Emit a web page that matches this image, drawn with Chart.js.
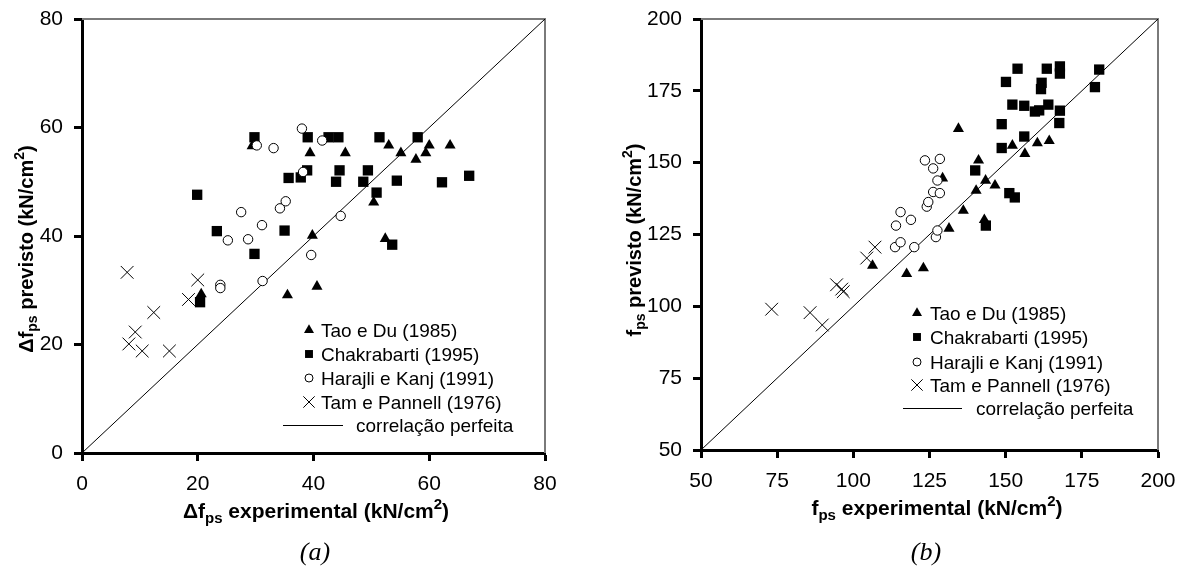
<!DOCTYPE html>
<html>
<head>
<meta charset="utf-8">
<script src="https://cdn.jsdelivr.net/npm/chart.js@4.4.1/dist/chart.umd.min.js"></script>
<style>
  body { margin: 0; background: #fff; }
  #wrapA, #wrapB { position: absolute; top: 0; }
  #wrapA { left: 0; }
  #wrapB { left: 590px; }
</style>
</head>
<body>
<div id="wrapA"><canvas id="chartA" width="590" height="569"></canvas></div>
<div id="wrapB"><canvas id="chartB" width="589" height="569"></canvas></div>
<script>
// series names (legend)
const seriesNames = ['Tao e Du (1985)', 'Chakrabarti (1995)', 'Harajli e Kanj (1991)', 'Tam e Pannell (1976)', 'correlação perfeita'];

// (a) delta fps: [experimental, previsto]
const taoA = [[20.6,29.3],[29.4,56.6],[35.5,29.1],[39.4,55.3],[39.8,40.1],[40.6,30.7],[45.5,55.3],[50.4,46.2],[52.4,39.5],[53.0,56.7],[55.1,55.3],[57.7,54.1],[59.4,55.3],[60.0,56.7],[63.6,56.7]];
const chakA = [[19.9,47.6],[20.4,27.8],[23.3,40.9],[29.8,58.2],[29.8,36.7],[35.0,41.0],[35.7,50.7],[37.8,50.8],[38.9,52.1],[39.0,58.2],[42.6,58.2],[44.3,58.2],[43.9,50.0],[44.5,52.1],[48.6,50.0],[49.4,52.1],[50.9,48.0],[51.4,58.2],[53.6,38.4],[54.4,50.2],[58.0,58.2],[62.2,49.9],[66.9,51.1]];
const harA = [[23.9,31.0],[23.9,30.4],[25.2,39.2],[27.5,44.4],[28.7,39.4],[30.2,56.7],[31.1,42.0],[31.2,31.7],[33.1,56.2],[34.2,45.1],[35.2,46.4],[38.0,59.8],[38.2,51.8],[39.6,36.5],[41.5,57.6],[44.7,43.7]];
const tamA = [[7.8,33.3],[8.1,20.1],[9.2,22.3],[10.4,18.8],[12.4,25.9],[15.1,18.8],[18.4,28.3],[20.0,31.9]];
const ticksA = [0, 20, 40, 60, 80];

// (b) fps: [experimental, previsto]
const taoB = [[106.3,114.2],[117.5,111.3],[123.0,113.3],[131.4,127.1],[129.3,144.6],[134.5,161.8],[136.1,133.3],[140.3,140.3],[141.1,150.8],[143.4,143.8],[146.5,142.1],[143.0,130.1],[152.2,156.0],[156.3,153.1],[160.4,156.8],[164.3,157.6]];
const chakB = [[140.0,147.3],[143.5,128.1],[151.2,139.4],[153.0,137.9],[148.7,155.1],[156.1,159.1],[148.7,163.4],[152.2,170.2],[156.1,169.8],[159.6,167.8],[161.0,168.2],[164.0,170.2],[167.8,168.1],[167.6,163.8],[150.1,178.1],[153.9,182.7],[163.5,182.7],[167.8,183.5],[167.8,181.0],[161.8,177.8],[161.6,175.6],[180.7,182.4],[179.3,176.3]];
const harB = [[120.0,120.6],[113.7,120.6],[115.5,122.3],[114.0,128.1],[118.9,130.1],[115.5,132.8],[127.1,124.1],[127.6,126.4],[124.1,134.7],[124.6,136.3],[126.2,139.8],[128.4,139.4],[127.6,143.8],[126.2,148.0],[123.5,150.8],[128.4,151.3]];
const tamB = [[73.2,99.0],[85.8,97.8],[89.8,93.5],[94.5,107.5],[96.2,106.0],[96.7,105.1],[104.4,116.8],[107.1,120.6]];
const ticksB = [50, 75, 100, 125, 150, 175, 200];

const FONT = "'Liberation Sans', Arial, Helvetica, sans-serif";

const toPts = arr => arr.map(p => ({ x: p[0], y: p[1] }));

// marker styles
const styles = [
  { pointStyle: 'triangle', pointRadius: 6.4, pointBackgroundColor: '#000', pointBorderColor: '#000', pointBorderWidth: 0, order: 2 },
  { pointStyle: 'rect', pointRadius: 7.3, pointBackgroundColor: '#000', pointBorderColor: '#000', pointBorderWidth: 0, order: 3 },
  { pointStyle: 'circle', pointRadius: 4.7, pointBackgroundColor: '#fff', pointBorderColor: '#000', pointBorderWidth: 1, order: 0 },
  { pointStyle: 'crossRot', pointRadius: 9, pointBackgroundColor: '#000', pointBorderColor: '#000', pointBorderWidth: 1, order: 1 }
];

function richText(ctx, parts, x, y, angle, size) {
  ctx.save();
  ctx.translate(x, y);
  ctx.rotate(angle);
  ctx.fillStyle = '#000';
  ctx.textBaseline = 'alphabetic';
  ctx.textAlign = 'left';
  const small = Math.round(size * 0.7);
  let total = 0;
  const ws = parts.map(p => {
    ctx.font = 'bold ' + (p[1] === 'n' ? size : small) + 'px ' + FONT;
    const w = ctx.measureText(p[0]).width;
    total += w;
    return w;
  });
  let cx = -total / 2;
  parts.forEach((p, i) => {
    ctx.font = 'bold ' + (p[1] === 'n' ? size : small) + 'px ' + FONT;
    const dy = p[1] === 'sub' ? size * 0.22 : (p[1] === 'sup' ? -size * 0.45 : 0);
    ctx.fillText(p[0], cx, dy);
    cx += ws[i];
  });
  ctx.restore();
}

function makeDecor(cfg) {
  return {
    id: 'decor',
    beforeDatasetsDraw(chart) {
      const { ctx, chartArea: a } = chart;
      ctx.save();
      ctx.strokeStyle = '#7a7a7a';
      ctx.lineWidth = 2;
      ctx.beginPath();
      ctx.moveTo(a.left, a.top);
      ctx.lineTo(a.right, a.top);
      ctx.lineTo(a.right, a.bottom);
      ctx.stroke();
      ctx.restore();
    },
    afterDraw(chart) {
      const ctx = chart.ctx;
      // axis titles
      richText(ctx, cfg.xTitle, cfg.xTitlePos[0], cfg.xTitlePos[1], 0, 21);
      richText(ctx, cfg.yTitle, cfg.yTitlePos[0], cfg.yTitlePos[1], -Math.PI / 2, 20);
      // panel label
      ctx.save();
      ctx.fillStyle = '#000';
      ctx.font = "italic 26px 'Liberation Serif', 'Times New Roman', serif";
      ctx.textAlign = 'center';
      ctx.textBaseline = 'middle';
      ctx.fillText(cfg.panel, cfg.panelPos[0], cfg.panelPos[1]);
      ctx.restore();
      // legend
      const lg = cfg.legend;
      ctx.save();
      ctx.font = '19px ' + FONT;
      ctx.fillStyle = '#000';
      ctx.textAlign = 'left';
      ctx.textBaseline = 'alphabetic';
      const legSizes = [5.8, 5.6, 4.0, 8];
      for (let i = 0; i < 4; i++) {
        const y = lg.rows[i];
        const s = styles[i];
        ctx.fillStyle = s.pointBackgroundColor;
        ctx.strokeStyle = s.pointBorderColor;
        ctx.lineWidth = s.pointBorderWidth || 1;
        Chart.helpers.drawPoint(ctx, {
          pointStyle: s.pointStyle, radius: legSizes[i], rotation: 0,
          borderWidth: s.pointBorderWidth
        }, lg.symX, y);
        ctx.fillStyle = '#000';
        ctx.fillText(seriesNames[i], lg.textX, y + 7);
      }
      const ly = lg.rows[4];
      ctx.strokeStyle = '#000';
      ctx.lineWidth = 1;
      ctx.beginPath();
      ctx.moveTo(lg.lineX[0], ly + 0.5);
      ctx.lineTo(lg.lineX[1], ly + 0.5);
      ctx.stroke();
      ctx.fillText(seriesNames[4], lg.lineTextX, ly + 7);
      ctx.restore();
    }
  };
}

function axis(ticks, fit, horizontal) {
  return {
    type: 'linear',
    min: ticks[0],
    max: ticks[ticks.length - 1],
    afterBuildTicks(s) { s.ticks = ticks.map(v => ({ value: v })); },
    ticks: { color: '#000', font: { family: FONT, size: 21 }, padding: horizontal ? 11 : 11, maxRotation: 0 },
    grid: { display: true, drawOnChartArea: false, drawTicks: true, tickLength: 8, tickWidth: 3, tickColor: '#000' },
    border: { display: true, width: 3, color: '#000' },
    afterFit(s) {
      if (horizontal) { s.height = fit; s.paddingLeft = 0; s.paddingRight = 0; }
      else { s.width = fit; s.paddingTop = 0; s.paddingBottom = 0; }
    }
  };
}

function build(id, sets, ticks, layout, decor) {
  const datasets = sets.map((d, i) => Object.assign({ label: seriesNames[i], data: toPts(d) }, styles[i]));
  const lo = ticks[0], hi = ticks[ticks.length - 1];
  datasets.push({
    label: seriesNames[4], data: [{ x: lo, y: lo }, { x: hi, y: hi }],
    showLine: true, borderColor: '#000', borderWidth: 1, pointRadius: 0, order: 9
  });
  new Chart(document.getElementById(id), {
    type: 'scatter',
    data: { datasets: datasets },
    options: {
      responsive: false,
      animation: false,
      devicePixelRatio: 1,
      layout: { padding: { left: 0, top: layout.top, right: layout.right, bottom: 0 } },
      plugins: { legend: { display: false }, tooltip: { enabled: false } },
      scales: {
        x: axis(ticks, layout.xh, true),
        y: axis(ticks, layout.yw, false)
      }
    },
    plugins: [makeDecor(decor)]
  });
}

build('chartA', [taoA, chakA, harA, tamA], ticksA,
  { top: 19, right: 45, xh: 116, yw: 82 },
  {
    xTitle: [['Δf', 'n'], ['ps', 'sub'], [' experimental (kN/cm', 'n'], ['2', 'sup'], [')', 'n']],
    yTitle: [['Δf', 'n'], ['ps', 'sub'], [' previsto (kN/cm', 'n'], ['2', 'sup'], [')', 'n']],
    xTitlePos: [316, 518], yTitlePos: [33, 249],
    panel: '(a)', panelPos: [315, 553],
    legend: { symX: 309, textX: 321, rows: [330, 354, 378, 402, 425], lineX: [283, 343], lineTextX: 356 }
  });

build('chartB', [taoB, chakB, harB, tamB], ticksB,
  { top: 19, right: 21, xh: 119, yw: 111 },
  {
    xTitle: [['f', 'n'], ['ps', 'sub'], [' experimental (kN/cm', 'n'], ['2', 'sup'], [')', 'n']],
    yTitle: [['f', 'n'], ['ps', 'sub'], [' previsto (kN/cm', 'n'], ['2', 'sup'], [')', 'n']],
    xTitlePos: [347, 515], yTitlePos: [51, 240],
    panel: '(b)', panelPos: [336, 553],
    legend: { symX: 327, textX: 340, rows: [313, 337, 362, 385, 408], lineX: [313, 372], lineTextX: 386 }
  });
</script>
</body>
</html>
